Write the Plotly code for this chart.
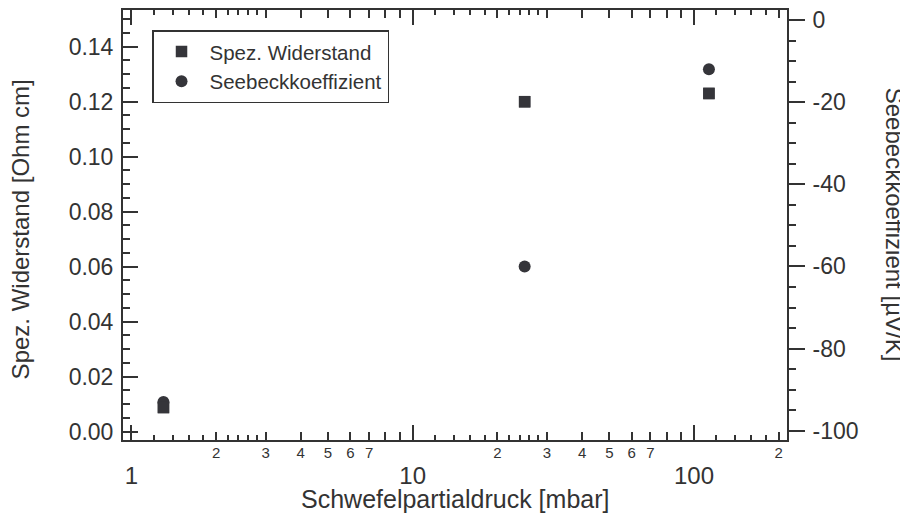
import plotly.graph_objects as go

# ---------------- data ----------------
pressure_mbar = [1.3, 25, 113]
resistivity = [0.0088, 0.120, 0.123]          # Ohm cm (left axis)
seebeck = [-93, -60, -12]                     # µV/K (right axis)

series_names = ["Spez. Widerstand", "Seebeckkoeffizient"]

x_major_ticks = [1, 10, 100]
x_major_labels = ["1", "10", "100"]
x_mid_ticks = [2, 3, 4, 5, 6, 7, 8, 9, 20, 30, 40, 50, 60, 70, 80, 90, 200]
x_mid_labels = ["2", "3", "4", "5", "6", "7", "", "",
                "2", "3", "4", "5", "6", "7", "", "", "2"]
x_small_ticks = [1.2, 1.4, 1.6, 1.8, 2.2, 2.4, 2.6, 2.8,
                 12, 14, 16, 18, 22, 24, 26, 28,
                 120, 140, 160, 180]

y_left_ticks = [0.00, 0.02, 0.04, 0.06, 0.08, 0.10, 0.12, 0.14]
y_right_ticks = [-100, -80, -60, -40, -20, 0]
y_right_labels = ["-100", "-80", "-60", "-40", "-20", "0"]

x_title = "Schwefelpartialdruck [mbar]"
y_left_title = "Spez. Widerstand [Ohm cm]"
y_right_title = "Seebeckkoeffizient [µV/K]"

# ---------------- style ----------------
FONT = "Liberation Sans, Arial, Helvetica, sans-serif"
INK = "#333333"
MARK = "#35353a"

x_range = [-0.0299, 2.3306]
y_left_range = [-0.00302, 0.15335]
y_right_range = [-102.26, 2.43]

fig = go.Figure()
fig.add_trace(go.Scatter(
    x=pressure_mbar, y=resistivity, mode="markers", name=series_names[0],
    marker=dict(symbol="square", size=11.5, color=MARK),
    xaxis="x", yaxis="y"))
fig.add_trace(go.Scatter(
    x=pressure_mbar, y=seebeck, mode="markers", name=series_names[1],
    marker=dict(symbol="circle", size=12, color=MARK),
    xaxis="x", yaxis="y2"))
# same resistivity points on the overlaid tick axis (keeps that axis drawn)
fig.add_trace(go.Scatter(
    x=pressure_mbar, y=resistivity, mode="markers", name=series_names[0],
    marker=dict(symbol="square", size=11.5, color=MARK),
    xaxis="x2", yaxis="y", showlegend=False, hoverinfo="skip"))

fig.update_layout(
    width=908, height=515,
    margin=dict(l=115, r=129, t=2, b=83, autoexpand=False),
    paper_bgcolor="white", plot_bgcolor="rgba(0,0,0,0)",
    font=dict(family=FONT, color=INK),
    showlegend=True,
    legend=dict(x=0.0437, y=0.953, xanchor="left", yanchor="top",
                bordercolor=INK, borderwidth=1.5, bgcolor="white",
                itemwidth=46,
                font=dict(size=20.5, family=FONT, color=INK),
                tracegroupgap=0),
    xaxis=dict(
        type="log", range=x_range, showgrid=False, zeroline=False,
        showline=True, linecolor=INK, linewidth=2, mirror="ticks",
        tickmode="array", tickvals=x_major_ticks, ticktext=x_major_labels,
        ticks="inside", ticklen=15, tickwidth=1.5, tickcolor=INK,
        tickfont=dict(size=24, family=FONT, color=INK),
        ticklabelstandoff=13,
        minor=dict(tickmode="array", tickvals=x_small_ticks, ticks="inside",
                   ticklen=5, tickwidth=1.5, tickcolor=INK, showgrid=False),
    ),
    xaxis2=dict(
        type="log", range=x_range, overlaying="x", anchor="y", side="bottom",
        showgrid=False, zeroline=False, showline=False, mirror="ticks",
        tickmode="array", tickvals=x_mid_ticks, ticktext=x_mid_labels,
        ticks="inside", ticklen=8, tickwidth=1.5, tickcolor=INK,
        tickfont=dict(size=15, family=FONT, color=INK),
        ticklabelstandoff=2,
    ),
    yaxis=dict(
        range=y_left_range, showgrid=False, zeroline=False,
        showline=True, linecolor=INK, linewidth=2, mirror=False,
        tickmode="array", tickvals=y_left_ticks, tickformat=".2f",
        ticks="inside", ticklen=15, tickwidth=1.5, tickcolor=INK,
        tickfont=dict(size=23, family=FONT, color=INK),
        ticklabelstandoff=3, ticklabeloverflow="allow",
        minor=dict(dtick=0.005, ticks="inside", ticklen=7, tickwidth=1.5,
                   tickcolor=INK, showgrid=False),
    ),
    yaxis2=dict(
        range=y_right_range, overlaying="y", anchor="x", side="right",
        showgrid=False, zeroline=False,
        showline=True, linecolor=INK, linewidth=2,
        tickmode="array", tickvals=y_right_ticks, ticktext=y_right_labels,
        ticks="outside", ticklen=16, tickwidth=1.5, tickcolor=INK,
        tickfont=dict(size=23, family=FONT, color=INK),
        ticklabelstandoff=3, ticklabeloverflow="allow",
        minor=dict(dtick=5, ticks="outside", ticklen=7, tickwidth=1.5,
                   tickcolor=INK, showgrid=False),
    ),
    annotations=[
        dict(text=x_title, xref="paper", yref="paper", x=0.5, y=-0.1373,
             xanchor="center", yanchor="middle", showarrow=False,
             font=dict(size=25, family=FONT, color=INK)),
        dict(text=y_left_title, xref="paper", yref="paper", x=-0.155, y=0.49,
             xanchor="center", yanchor="middle", showarrow=False, textangle=-90,
             font=dict(size=24, family=FONT, color=INK)),
        dict(text=y_right_title, xref="paper", yref="paper", x=1.163, y=0.5,
             xanchor="center", yanchor="middle", showarrow=False, textangle=90,
             font=dict(size=24, family=FONT, color=INK)),
    ],
)

fig.write_html("out.html")
